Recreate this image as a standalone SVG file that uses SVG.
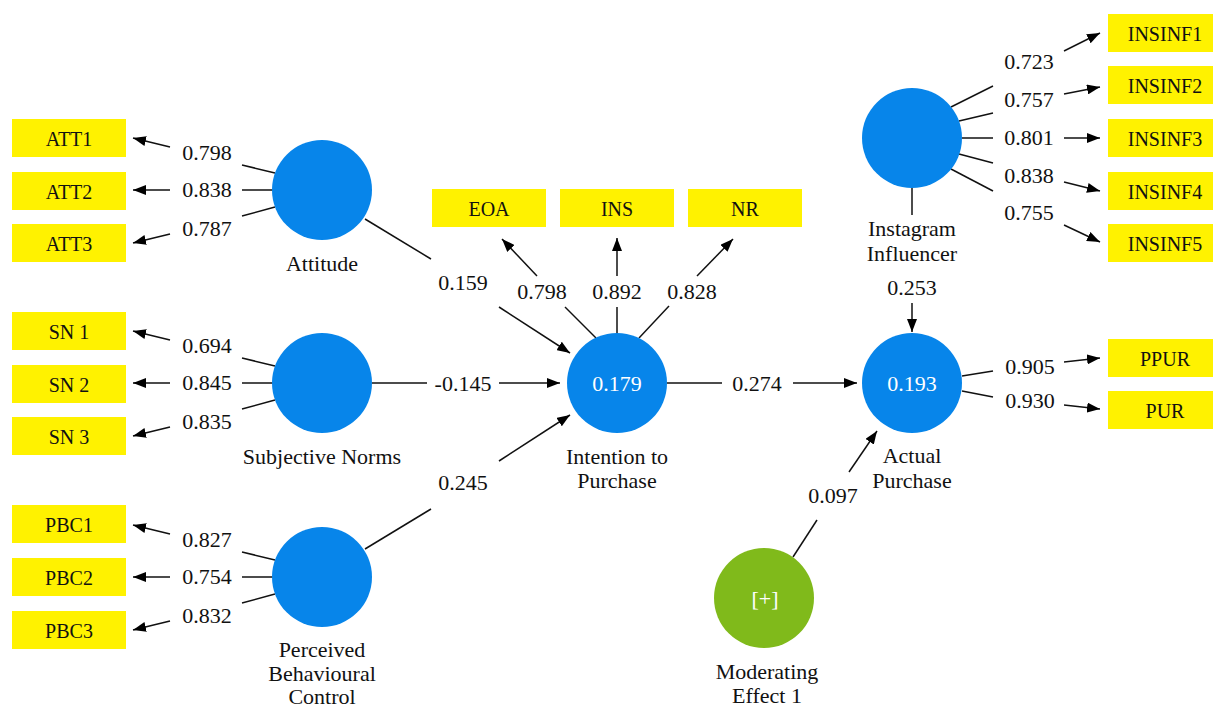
<svg xmlns="http://www.w3.org/2000/svg" width="1213" height="707" viewBox="0 0 1213 707">
<defs>
<marker id="ah" markerUnits="userSpaceOnUse" markerWidth="13" markerHeight="10" refX="13" refY="5" orient="auto"><path d="M0,0 L13,5 L0,10 z" fill="#000"/></marker>
<style>
.lv{fill:#0785EA}
.mod{fill:#80BA1B}
.ind{fill:#FFF200}
text{font-family:"Liberation Serif","Times New Roman",serif;font-size:22px;fill:#111;text-anchor:middle}
.bt{font-size:20px}
.wt{fill:#fff}
.c line{stroke:#111;stroke-width:1.5}
.c .a{marker-end:url(#ah)}
</style>
</defs>
<rect width="1213" height="707" fill="#fff"/>

<g class="c" id="connectors">
<!-- ATT loadings -->
<line x1="275" y1="173" x2="242" y2="165"/><text x="207" y="160">0.798</text><line class="a" x1="170" y1="147" x2="133" y2="138"/>
<line x1="273" y1="190" x2="242" y2="190"/><text x="207" y="197">0.838</text><line class="a" x1="170" y1="190" x2="133" y2="190"/>
<line x1="275" y1="207" x2="242" y2="216"/><text x="207" y="236">0.787</text><line class="a" x1="170" y1="234" x2="133" y2="243"/>
<!-- SN loadings -->
<line x1="275" y1="366" x2="242" y2="358"/><text x="207" y="353">0.694</text><line class="a" x1="170" y1="340" x2="133" y2="331"/>
<line x1="273" y1="383" x2="242" y2="383"/><text x="207" y="390">0.845</text><line class="a" x1="170" y1="383" x2="133" y2="383"/>
<line x1="275" y1="400" x2="242" y2="409"/><text x="207" y="429">0.835</text><line class="a" x1="170" y1="427" x2="133" y2="436"/>
<!-- PBC loadings -->
<line x1="275" y1="560" x2="242" y2="552"/><text x="207" y="547">0.827</text><line class="a" x1="170" y1="534" x2="133" y2="525"/>
<line x1="273" y1="577" x2="242" y2="577"/><text x="207" y="584">0.754</text><line class="a" x1="170" y1="577" x2="133" y2="577"/>
<line x1="275" y1="594" x2="242" y2="603"/><text x="207" y="623">0.832</text><line class="a" x1="170" y1="621" x2="133" y2="630"/>
<!-- structural to Intention -->
<line x1="365" y1="219" x2="431" y2="259"/><text x="463" y="290">0.159</text><line class="a" x1="499" y1="307" x2="570" y2="353"/>
<line x1="372" y1="383" x2="427" y2="383"/><text x="463" y="391">-0.145</text><line class="a" x1="499" y1="383" x2="560" y2="383"/>
<line x1="365" y1="549" x2="431" y2="509"/><text x="463" y="490">0.245</text><line class="a" x1="499" y1="461" x2="570" y2="415"/>
<!-- Intention loadings -->
<line x1="596" y1="338" x2="565" y2="307"/><text x="542" y="299">0.798</text><line class="a" x1="537" y1="276" x2="502" y2="239"/>
<line x1="617" y1="333" x2="617" y2="307"/><text x="617" y="299">0.892</text><line class="a" x1="617" y1="276" x2="617" y2="238"/>
<line x1="639" y1="338" x2="669" y2="306"/><text x="692" y="299">0.828</text><line class="a" x1="697" y1="276" x2="733" y2="239"/>
<!-- Intention -> Actual -->
<line x1="667" y1="383" x2="722" y2="383"/><text x="757" y="391">0.274</text><line class="a" x1="793" y1="383" x2="857" y2="383"/>
<!-- Instagram loadings -->
<line x1="951" y1="107" x2="993" y2="86"/><text x="1029" y="69">0.723</text><line class="a" x1="1064" y1="51" x2="1100" y2="33"/>
<line x1="959" y1="121" x2="993" y2="113"/><text x="1029" y="107">0.757</text><line class="a" x1="1064" y1="94" x2="1100" y2="87"/>
<line x1="962" y1="138" x2="993" y2="138"/><text x="1029" y="145">0.801</text><line class="a" x1="1064" y1="138" x2="1100" y2="138"/>
<line x1="959" y1="154" x2="993" y2="163"/><text x="1029" y="183">0.838</text><line class="a" x1="1064" y1="182" x2="1100" y2="191"/>
<line x1="951" y1="169" x2="993" y2="191"/><text x="1029" y="220">0.755</text><line class="a" x1="1064" y1="225" x2="1100" y2="242"/>
<!-- Instagram -> Actual -->
<line x1="912" y1="188" x2="912" y2="215"/><text x="912" y="295">0.253</text><line class="a" x1="912" y1="303" x2="912" y2="332"/>
<!-- Actual loadings -->
<line x1="962" y1="376" x2="993" y2="371"/><text x="1030" y="374">0.905</text><line class="a" x1="1064" y1="362" x2="1100" y2="358"/>
<line x1="962" y1="391" x2="993" y2="397"/><text x="1030" y="408">0.930</text><line class="a" x1="1064" y1="405" x2="1100" y2="409"/>
<!-- Moderating -> Actual -->
<line x1="793" y1="557" x2="817" y2="520"/><text x="833" y="503">0.097</text><line class="a" x1="849" y1="472" x2="877" y2="431"/>
</g>

<g id="ATT1"><rect class="ind" x="12" y="119" width="114" height="38"/><text class="bt" x="69" y="146">ATT1</text></g>
<g id="ATT2"><rect class="ind" x="12" y="172" width="114" height="38"/><text class="bt" x="69" y="199">ATT2</text></g>
<g id="ATT3"><rect class="ind" x="12" y="224" width="114" height="38"/><text class="bt" x="69" y="251">ATT3</text></g>
<g id="SN1"><rect class="ind" x="12" y="312" width="114" height="38"/><text class="bt" x="69" y="339">SN 1</text></g>
<g id="SN2"><rect class="ind" x="12" y="365" width="114" height="38"/><text class="bt" x="69" y="392">SN 2</text></g>
<g id="SN3"><rect class="ind" x="12" y="417" width="114" height="38"/><text class="bt" x="69" y="444">SN 3</text></g>
<g id="PBC1"><rect class="ind" x="12" y="505" width="114" height="38"/><text class="bt" x="69" y="532">PBC1</text></g>
<g id="PBC2"><rect class="ind" x="12" y="558" width="114" height="38"/><text class="bt" x="69" y="585">PBC2</text></g>
<g id="PBC3"><rect class="ind" x="12" y="611" width="114" height="38"/><text class="bt" x="69" y="638">PBC3</text></g>
<g id="EOA"><rect class="ind" x="432" y="189" width="114" height="38"/><text class="bt" x="489" y="216">EOA</text></g>
<g id="INS"><rect class="ind" x="560" y="189" width="114" height="38"/><text class="bt" x="617" y="216">INS</text></g>
<g id="NR"><rect class="ind" x="688" y="189" width="114" height="38"/><text class="bt" x="745" y="216">NR</text></g>
<g id="INSINF1"><rect class="ind" x="1108" y="14" width="114" height="38"/><text class="bt" x="1165" y="41">INSINF1</text></g>
<g id="INSINF2"><rect class="ind" x="1108" y="66" width="114" height="38"/><text class="bt" x="1165" y="93">INSINF2</text></g>
<g id="INSINF3"><rect class="ind" x="1108" y="119" width="114" height="38"/><text class="bt" x="1165" y="146">INSINF3</text></g>
<g id="INSINF4"><rect class="ind" x="1108" y="172" width="114" height="38"/><text class="bt" x="1165" y="199">INSINF4</text></g>
<g id="INSINF5"><rect class="ind" x="1108" y="224" width="114" height="38"/><text class="bt" x="1165" y="251">INSINF5</text></g>
<g id="PPUR"><rect class="ind" x="1108" y="339" width="114" height="38"/><text class="bt" x="1165" y="366">PPUR</text></g>
<g id="PUR"><rect class="ind" x="1108" y="391" width="114" height="38"/><text class="bt" x="1165" y="418">PUR</text></g>

<g id="Attitude"><circle class="lv" cx="322" cy="190" r="50"/><text x="322" y="271">Attitude</text></g>
<g id="SubjectiveNorms"><circle class="lv" cx="322" cy="383" r="50"/><text x="322" y="464">Subjective Norms</text></g>
<g id="PBC"><circle class="lv" cx="322" cy="577" r="50"/><text x="322" y="657">Perceived</text><text x="322" y="681">Behavioural</text><text x="322" y="704">Control</text></g>
<g id="Intention"><circle class="lv" cx="617" cy="383" r="50"/><text class="wt" x="617" y="391">0.179</text><text x="617" y="464">Intention to</text><text x="617" y="488">Purchase</text></g>
<g id="Instagram"><circle class="lv" cx="912" cy="138" r="50"/><text x="912" y="236">Instagram</text><text x="912" y="261">Influencer</text></g>
<g id="Actual"><circle class="lv" cx="912" cy="383" r="50"/><text class="wt" x="912" y="391">0.193</text><text x="912" y="463">Actual</text><text x="912" y="488">Purchase</text></g>
<g id="Moderating"><circle class="mod" cx="764" cy="598" r="50"/><text class="wt" x="765" y="606">[+]</text><text x="767" y="679">Moderating</text><text x="767" y="703">Effect 1</text></g>
</svg>
